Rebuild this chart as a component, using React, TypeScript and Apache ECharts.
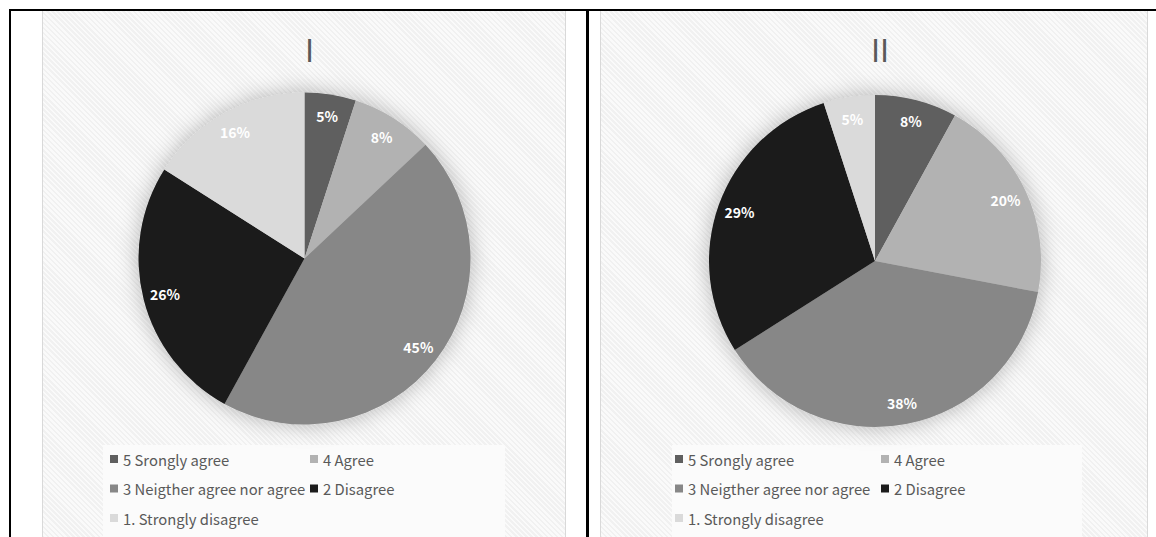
import React, { useEffect, useRef } from "react";
import * as echarts from "echarts";

const categories = [
  "5 Srongly agree",
  "4 Agree",
  "3 Neigther agree nor agree",
  "2 Disagree",
  "1. Strongly disagree",
];
const valuesI = [5, 8, 45, 26, 16];
const valuesII = [8, 20, 38, 29, 5];
const sliceColors = ["#5f5f5f", "#b2b2b2", "#878787", "#1b1b1b", "#dadada"];
const legendCol1 = [categories[0], categories[2], categories[4]];
const legendCol2 = [categories[1], categories[3]];

const FONT = "'Noto Sans CJK JP', 'Noto Sans', sans-serif";
const HATCH =
  "repeating-linear-gradient(45deg, #f1f1f1 0px, #f1f1f1 1.8px, #fafafa 1.8px, #fafafa 3.6px)";

type PanelProps = {
  title: string;
  values: number[];
  left: number;
  width: number;
  cx: number;
  cy: number;
  r: number;
  boxX: number;
  boxW: number;
  col1X: number;
  col2X: number;
};

function Panel(p: PanelProps) {
  const ref = useRef<HTMLDivElement>(null);
  useEffect(() => {
    if (!ref.current) return;
    const chart = echarts.init(ref.current, undefined, { renderer: "svg" });
    const data = categories.map((name, i) => ({
      name,
      value: p.values[i],
      itemStyle: { color: sliceColors[i] },
    }));
    const legendBase = {
      orient: "vertical" as const,
      top: 440,
      padding: 0,
      itemWidth: 8,
      itemHeight: 8,
      itemGap: 13.5,
      icon: "rect",
      selectedMode: false,
      textStyle: { color: "#595959", fontSize: 14.8, fontFamily: FONT, lineHeight: 16 },
    };
    chart.setOption({
      animation: false,
      backgroundColor: "transparent",
      title: {
        text: p.title,
        left: p.cx,
        textAlign: "center",
        top: 17,
        textStyle: { color: "#595959", fontSize: 31, fontWeight: "normal", fontFamily: FONT },
      },
      graphic: [
        {
          type: "rect",
          left: p.boxX,
          top: 434,
          shape: { width: p.boxW, height: 100 },
          style: { fill: "#fbfbfb" },
          z: -1,
          silent: true,
        },
      ],
      legend: [
        { ...legendBase, left: p.col1X, data: legendCol1 },
        { ...legendBase, left: p.col2X, data: legendCol2 },
      ],
      series: [
        {
          type: "pie",
          silent: true,
          center: [p.cx, p.cy],
          radius: [0, p.r],
          label: { show: false },
          labelLine: { show: false },
          itemStyle: {
            color: "#d0d0d0",
            shadowBlur: 22,
            shadowColor: "rgba(0,0,0,0.28)",
          },
          data: [{ name: "shadow", value: 1 }],
        },
        {
          type: "pie",
          silent: true,
          startAngle: 90,
          clockwise: true,
          center: [p.cx, p.cy],
          radius: [0, p.r],
          label: { show: false },
          labelLine: { show: false },
          emphasis: { disabled: true },
          data,
        },
        {
          type: "pie",
          silent: true,
          startAngle: 90,
          clockwise: true,
          center: [p.cx, p.cy],
          radius: [p.r * 0.7, p.r],
          itemStyle: { color: "transparent" },
          label: {
            show: true,
            position: "inside",
            formatter: "{c}%",
            color: "#ffffff",
            fontSize: 14,
            fontWeight: "bold",
            fontFamily: FONT,
          },
          labelLine: { show: false },
          emphasis: { disabled: true },
          data: categories.map((name, i) => ({ name, value: p.values[i] })),
        },
      ],
    });
    return () => chart.dispose();
  }, []);
  return (
    <div
      ref={ref}
      style={{
        position: "absolute",
        left: p.left,
        top: 11,
        width: p.width,
        height: 526,
        background: HATCH,
        boxShadow: "inset 1px 0 0 #d9d9d9, inset -1px 0 0 #d9d9d9",
      }}
    />
  );
}

export default function App() {
  return (
    <div
      style={{
        position: "fixed",
        left: 0,
        top: 0,
        width: 1156,
        height: 537,
        overflow: "hidden",
        background: "#ffffff",
      }}
    >
      <Panel
        title="I"
        values={valuesI}
        left={42}
        width={524}
        cx={262.5}
        cy={247.5}
        r={166}
        boxX={61}
        boxW={402}
        col1X={68}
        col2X={268}
      />
      <Panel
        title="II"
        values={valuesII}
        left={600}
        width={548}
        cx={275}
        cy={250}
        r={166}
        boxX={72}
        boxW={410}
        col1X={75}
        col2X={281}
      />
      <div style={{ position: "absolute", left: 9, top: 9, width: 1147, height: 2, background: "#000" }} />
      <div style={{ position: "absolute", left: 9, top: 9, width: 2, height: 528, background: "#000" }} />
      <div style={{ position: "absolute", left: 586, top: 9, width: 2.5, height: 528, background: "#000" }} />
    </div>
  );
}
